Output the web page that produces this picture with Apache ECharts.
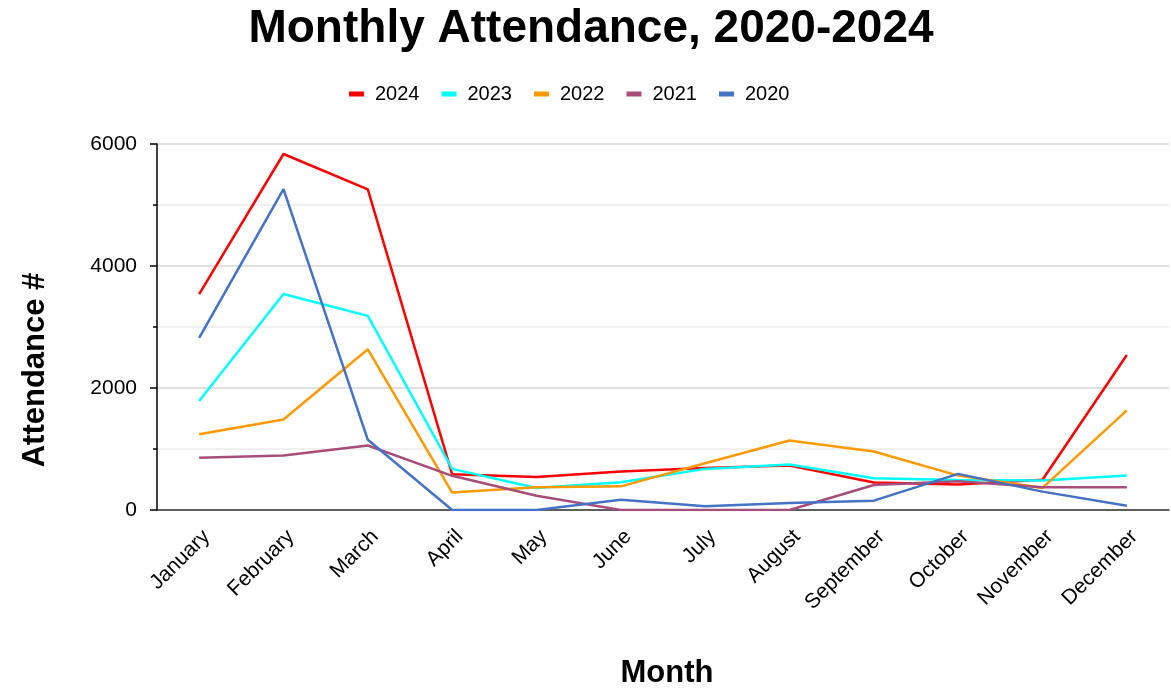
<!DOCTYPE html>
<html>
<head>
<meta charset="utf-8">
<script src="https://cdn.jsdelivr.net/npm/echarts@6/dist/echarts.min.js"></script>
<style>html,body{margin:0;padding:0;background:#fff}#c{width:1171px;height:691px}</style>
</head>
<body>
<div id="c"></div>
<script>
const months = ['January','February','March','April','May','June','July','August','September','October','November','December'];
const years = ['2024','2023','2022','2021','2020'];
const v2024 = [3540, 5836, 5255, 585, 540, 630, 690, 730, 450, 420, 495, 2540];
const v2023 = [1786, 3540, 3183, 674, 362, 454, 674, 745, 520, 493, 482, 564];
const v2022 = [1243, 1485, 2635, 285, 372, 388, 766, 1139, 958, 564, 362, 1633];
const v2021 = [855, 893, 1057, 560, 235, 0, 0, 0, 411, 470, 372, 372];
const v2020 = [2821, 5261, 1151, 0, 0, 169, 60, 115, 153, 592, 301, 71];
const colors = ['#ff0000', '#00ffff', '#ff9900', '#a64d79', '#4472c4'];
const values = [v2024, v2023, v2022, v2021, v2020];
const FONT = '"Liberation Sans", Arial, sans-serif';

const chart = echarts.init(document.getElementById('c'));
chart.setOption({
  animation: false,
  title: {
    text: 'Monthly Attendance, 2020-2024',
    left: 586, top: 1, textAlign: 'center',
    textStyle: { fontFamily: FONT, fontSize: 46, fontWeight: 'bold', color: '#000' }
  },
  legend: {
    left: 349, top: 84, padding: 0,
    icon: 'rect', itemWidth: 15, itemHeight: 5, itemGap: 22,
    textStyle: { fontFamily: FONT, fontSize: 20, color: '#000', padding: [0, 0, 0, 6] },
    data: years
  },
  grid: { left: 157, right: 2, top: 144, bottom: 181 },
  xAxis: {
    type: 'category', data: months, boundaryGap: true,
    axisLine: { lineStyle: { color: '#333', width: 1.5 } },
    axisTick: { show: false },
    axisLabel: { rotate: 45, fontFamily: FONT, fontSize: 21, color: '#000', margin: 16, verticalAlign: 'top', align: 'right', interval: 0 }
  },
  yAxis: {
    type: 'value', min: 0, max: 6000, interval: 2000,
    axisLine: { show: true, lineStyle: { color: '#000', width: 1.5 } },
    axisTick: { show: true, length: 7, lineStyle: { color: '#000', width: 1.5 } },
    minorTick: { show: true, splitNumber: 2, length: 4, lineStyle: { color: '#000', width: 1.5 } },
    axisLabel: { fontFamily: FONT, fontSize: 21, color: '#000', margin: 20, formatter: (v) => String(v) },
    splitLine: { lineStyle: { color: '#d6d6d6', width: 1.5 } },
    minorSplitLine: { show: true, lineStyle: { color: '#ebebeb', width: 1.5 } }
  },
  graphic: [
    { type: 'text', x: 667, y: 673, style: { text: 'Month', fontFamily: FONT, fontSize: 31, fontWeight: 'bold', fill: '#000', textAlign: 'center', textVerticalAlign: 'middle' } },
    { type: 'text', x: 35, y: 370, rotation: Math.PI / 2, style: { text: 'Attendance #', fontFamily: FONT, fontSize: 31, fontWeight: 'bold', fill: '#000', textAlign: 'center', textVerticalAlign: 'middle' } }
  ],
  series: years.map((y, i) => ({
    name: y, type: 'line', data: values[i], showSymbol: false, symbol: 'none',
    lineStyle: { color: colors[i], width: 2.5 }, itemStyle: { color: colors[i] }
  }))
});
</script>
</body>
</html>
